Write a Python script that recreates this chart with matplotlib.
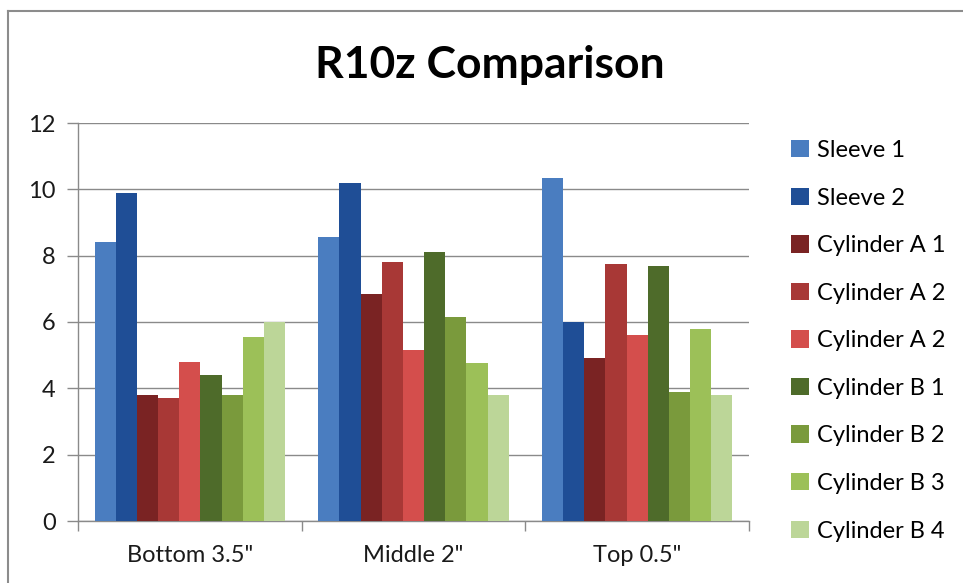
import matplotlib
matplotlib.use("Agg")
import matplotlib.pyplot as plt
from matplotlib.lines import Line2D
import numpy as np

plt.rcParams['font.family'] = ['Lato', 'DejaVu Sans']

categories = ['Bottom 3.5"', 'Middle 2"', 'Top 0.5"']
series_names = ['Sleeve 1', 'Sleeve 2', 'Cylinder A 1', 'Cylinder A 2', 'Cylinder A 2',
                'Cylinder B 1', 'Cylinder B 2', 'Cylinder B 3', 'Cylinder B 4']
sleeve_1 = [8.4, 8.55, 10.35]
sleeve_2 = [9.9, 10.2, 6.0]
cyl_a1 = [3.8, 6.85, 4.9]
cyl_a2 = [3.7, 7.8, 7.75]
cyl_a2b = [4.8, 5.15, 5.6]
cyl_b1 = [4.4, 8.1, 7.7]
cyl_b2 = [3.8, 6.15, 3.9]
cyl_b3 = [5.55, 4.75, 5.8]
cyl_b4 = [6.0, 3.8, 3.8]
series_values = [sleeve_1, sleeve_2, cyl_a1, cyl_a2, cyl_a2b, cyl_b1, cyl_b2, cyl_b3, cyl_b4]
colors = ['#4A7DC0', '#1F4E96', '#7A2323', '#A83836', '#D44E4C',
          '#4E6B2A', '#7A9A3C', '#9CC058', '#BCD698']
y_ticks = [0, 2, 4, 6, 8, 10, 12]

fig = plt.figure(figsize=(9.63, 5.83), dpi=100)
ax = fig.add_axes([78 / 963, 62 / 583, 671 / 963, 398 / 583])

n = len(series_values)
bar_w = 0.0946
x = np.arange(len(categories))
handles = []
for i, (vals, col, name) in enumerate(zip(series_values, colors, series_names)):
    offs = (i - (n - 1) / 2) * bar_w
    b = ax.bar(x + offs, vals, width=bar_w, color=col, label=name, linewidth=0, zorder=3)
    handles.append(b)

ax.set_xlim(-0.5, len(categories) - 0.5)
ax.set_ylim(0, 12)
ax.set_yticks(y_ticks)
ax.set_yticklabels([str(t) for t in y_ticks], fontsize=17, color='#1a1a1a')
ax.yaxis.grid(True, color='#8a8a8a', linewidth=1.0, zorder=0)
ax.set_axisbelow(True)

ax.set_xticks(x)
ax.set_xticklabels(categories, fontsize=17, color='#1a1a1a')
ax.set_xticks(np.arange(len(categories) + 1) - 0.5, minor=True)
ax.tick_params(axis='x', which='major', length=0, pad=17)
ax.tick_params(axis='x', which='minor', length=7, color='#8a8a8a', width=1)
ax.tick_params(axis='y', length=8, color='#8a8a8a', width=1, pad=8)

for s in ['top', 'right']:
    ax.spines[s].set_visible(False)
for s in ['left', 'bottom']:
    ax.spines[s].set_color('#8a8a8a')
    ax.spines[s].set_linewidth(1.0)

fig.text(490 / 963, 1 - 65 / 583, 'R10z Comparison', ha='center', va='center',
         fontsize=32, fontweight='bold', color='#000000')

fig.legend(handles=handles, labels=series_names, loc='upper left',
           bbox_to_anchor=(791 / 963, 1 - 140 / 583), frameon=False,
           fontsize=17, handlelength=0.75, handleheight=0.75, handletextpad=0.35,
           labelspacing=1.125, borderpad=0, borderaxespad=0)

# chart frame edges
fig.add_artist(Line2D([8 / 963, 1], [1 - 11 / 583, 1 - 11 / 583], color='#8c8c8c', linewidth=1.5))
fig.add_artist(Line2D([8 / 963, 8 / 963], [0, 1 - 11 / 583], color='#8c8c8c', linewidth=1.5))

fig.savefig('out.png', dpi=100)
